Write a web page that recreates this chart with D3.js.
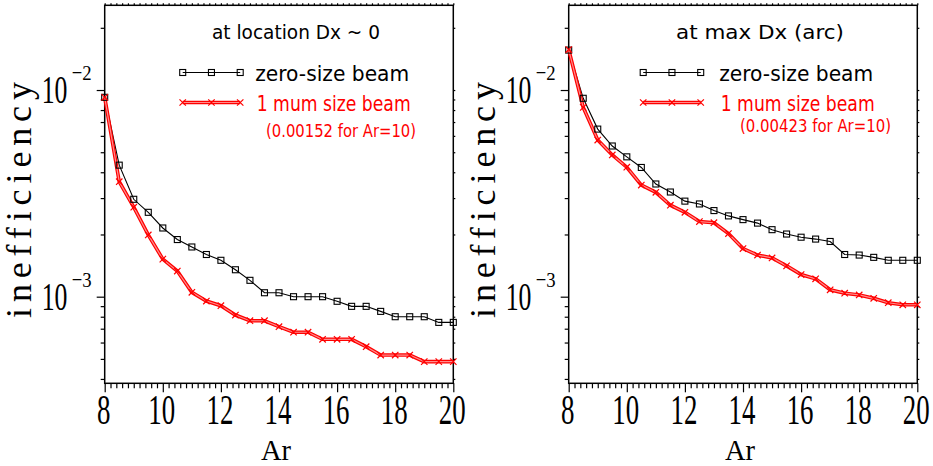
<!DOCTYPE html>
<html><head><meta charset="utf-8">
<script src="https://cdn.jsdelivr.net/npm/d3@7"></script>
<style>body{margin:0;background:#fff}svg{display:block}</style>
</head><body><svg id="c" width="933" height="466"></svg>
<script>
// ---- data ----
const ar = [8,8.5,9,9.5,10,10.5,11,11.5,12,12.5,13,13.5,14,14.5,15,15.5,16,16.5,17,17.5,18,18.5,19,19.5,20];
const zeroLeft = [9.22e-3,4.33e-3,2.96e-3,2.56e-3,2.15e-3,1.89e-3,1.74e-3,1.60e-3,1.50e-3,1.35e-3,1.20e-3,1.045e-3,1.045e-3,1.00e-3,1.00e-3,1.00e-3,9.5e-4,8.98e-4,8.98e-4,8.49e-4,8.0e-4,8.0e-4,8.0e-4,7.51e-4,7.51e-4];
const beamLeft = [9.22e-3,3.60e-3,2.71e-3,1.99e-3,1.52e-3,1.33e-3,1.05e-3,9.53e-4,9.04e-4,8.15e-4,7.65e-4,7.65e-4,7.16e-4,6.73e-4,6.73e-4,6.22e-4,6.22e-4,6.22e-4,5.73e-4,5.22e-4,5.22e-4,5.22e-4,4.85e-4,4.85e-4,4.85e-4];
const zeroRight = [1.56e-2,9.12e-3,6.47e-3,5.36e-3,4.75e-3,4.22e-3,3.51e-3,3.21e-3,2.90e-3,2.81e-3,2.61e-3,2.46e-3,2.36e-3,2.27e-3,2.11e-3,2.01e-3,1.94e-3,1.90e-3,1.85e-3,1.60e-3,1.59e-3,1.55e-3,1.50e-3,1.50e-3,1.50e-3];
const beamRight = [1.57e-2,8.24e-3,5.73e-3,4.85e-3,4.23e-3,3.47e-3,3.20e-3,2.77e-3,2.56e-3,2.31e-3,2.28e-3,2.02e-3,1.71e-3,1.59e-3,1.54e-3,1.41e-3,1.28e-3,1.22e-3,1.08e-3,1.04e-3,1.02e-3,9.82e-4,9.35e-4,9.14e-4,9.14e-4];
const xMajorTicks = [8,10,12,14,16,18,20];
const yMajorTicks = [1e-3,1e-2];
const yMajorLabels = ["−3","−2"];
const titles = ["at location Dx ~ 0","at max Dx (arc)"];
const seriesNames = ["zero-size beam","1 mum size beam"];
const notes = ["(0.00152 for Ar=10)","(0.00423 for Ar=10)"];
const xLabel = "Ar";
const yLabel = "inefficiency";

// ---- drawing ----
const svg = d3.select("#c");
const yTop = 5.3, yBot = 383.3;
const yDomain = [3.81e-4, 0.0257];
const xMinor = d3.range(8, 20.0001, 0.2).map(v => +v.toFixed(1));
const yMinor = [];
[1e-4,1e-3,1e-2].forEach(d => { for (let k=1;k<10;k++){ const v=k*d; if (v>=yDomain[0] && v<=yDomain[1]) yMinor.push(v);} });

const panels = [
  {x0:104.7, x1:453.3, zero:zeroLeft, beam:beamLeft, title:titles[0], note:notes[0], legX:78, noteX:161.3, noteY:137, noteW:150},
  {x0:568.7, x1:917.3, zero:zeroRight, beam:beamRight, title:titles[1], note:notes[1], legX:74.5, noteX:171.3, noteY:132, noteW:151}
];

const serif = "'Liberation Serif','Times New Roman',serif";
const sans = "'DejaVu Sans',sans-serif";

panels.forEach(p => {
  const g = svg.append("g");
  const x = d3.scaleLinear().domain([8,20]).range([p.x0, p.x1]);
  const y = d3.scaleLog().domain(yDomain).range([yBot, yTop]);

  const isMajorX = v => xMajorTicks.some(t => Math.abs(t-v)<1e-6);
  const isMajorY = v => yMajorTicks.some(t => Math.abs(t-v)/t<1e-6);

  const bottom = g.append("g").attr("transform",`translate(0,${yBot})`)
    .call(d3.axisBottom(x).tickValues(xMinor).tickSize(5).tickFormat(""));
  bottom.selectAll(".tick line").attr("y2", d => isMajorX(d) ? 9 : 5);
  const top = g.append("g").attr("transform",`translate(0,${yTop})`)
    .call(d3.axisTop(x).tickValues(xMinor).tickSize(2).tickFormat(""));
  const left = g.append("g").attr("transform",`translate(${p.x0},0)`)
    .call(d3.axisLeft(y).tickValues(yMinor).tickSize(4).tickFormat(""));
  left.selectAll(".tick line").attr("x2", d => isMajorY(d) ? -8 : -4);
  const right = g.append("g").attr("transform",`translate(${p.x1},0)`)
    .call(d3.axisRight(y).tickValues(yMinor).tickSize(2).tickFormat(""));
  [bottom, top, left, right].forEach(a => {
    a.select(".domain").remove();
    a.selectAll(".tick line").attr("stroke","#000").attr("stroke-width",1.2);
  });
  g.append("rect").attr("x",p.x0).attr("y",yTop).attr("width",p.x1-p.x0).attr("height",yBot-yTop)
    .attr("fill","none").attr("stroke","#000").attr("stroke-width",1.5);

  xMajorTicks.forEach(t => {
    g.append("text").attr("transform",`translate(${x(t)-1},424) scale(0.64,1)`)
      .attr("text-anchor","middle").attr("font-family",serif).attr("font-size",42).text(t);
  });
  yMajorTicks.forEach((t,i) => {
    g.append("text").attr("transform",`translate(${p.x0-63},${y(t)+13}) scale(0.66,1)`)
      .attr("font-family",serif).attr("font-size",39).text("10");
    g.append("text").attr("transform",`translate(${p.x0-33},${y(t)-10}) scale(0.85,1)`)
      .attr("font-family",serif).attr("font-size",22).text(yMajorLabels[i]);
  });
  g.append("text").attr("transform",`translate(${(p.x0+p.x1)/2-3},460) scale(0.95,1)`)
    .attr("text-anchor","middle").attr("font-family",serif).attr("font-size",30).text(xLabel);
  g.append("text").attr("transform",`translate(${p.x0-74},318) rotate(-90)`)
    .attr("font-family",serif).attr("font-size",36)
    .attr("textLength",236).attr("lengthAdjust","spacing").text(yLabel);

  const line = (arr) => d3.line().x((d,i)=>x(ar[i])).y(d=>y(d))(arr);
  g.append("path").attr("d",line(p.zero)).attr("fill","none").attr("stroke","#000").attr("stroke-width",1.1);
  g.append("path").attr("d",line(p.beam)).attr("fill","none").attr("stroke","#ff0000").attr("stroke-width",3.6);
  g.append("path").attr("d",line(p.beam)).attr("fill","none").attr("stroke","#ff8c8c").attr("stroke-width",1.2);

  const sq = (sel, cx, cy) => sel.append("rect").attr("x",cx-3).attr("y",cy-3).attr("width",6).attr("height",6)
    .attr("fill","none").attr("stroke","#000").attr("stroke-width",1.1);
  const cross = (sel, cx, cy) => sel.append("path").attr("d",`M${cx-3.2},${cy-3.2}L${cx+3.2},${cy+3.2}M${cx-3.2},${cy+3.2}L${cx+3.2},${cy-3.2}`)
    .attr("stroke","#ff0000").attr("stroke-width",1.2).attr("fill","none");

  p.zero.forEach((v,i) => sq(g, x(ar[i]), y(v)));
  p.beam.forEach((v,i) => cross(g, x(ar[i]), y(v)));

  const lx0 = p.x0 + p.legX, lx1 = lx0 + 57.5, lxm = (lx0+lx1)/2;
  g.append("line").attr("x1",lx0).attr("x2",lx1).attr("y1",72.5).attr("y2",72.5).attr("stroke","#000").attr("stroke-width",1.1);
  [lx0,lxm,lx1].forEach(cx => sq(g, cx, 72.5));
  g.append("line").attr("x1",lx0).attr("x2",lx1).attr("y1",102.5).attr("y2",102.5).attr("stroke","#ff0000").attr("stroke-width",3.6);
  g.append("line").attr("x1",lx0).attr("x2",lx1).attr("y1",102.5).attr("y2",102.5).attr("stroke","#ff8c8c").attr("stroke-width",1.2);
  [lx0,lxm,lx1].forEach(cx => cross(g, cx, 102.5));

  g.append("text").attr("x",p.x0+191.3).attr("y",39).attr("text-anchor","middle")
    .attr("font-family",sans).attr("font-size",19).attr("textLength",168).attr("lengthAdjust","spacingAndGlyphs").text(p.title);
  g.append("text").attr("x",p.x0+150.5).attr("y",81).attr("font-family",sans).attr("font-size",22)
    .attr("textLength",154).attr("lengthAdjust","spacingAndGlyphs").text(seriesNames[0]);
  g.append("text").attr("x",p.x0+152).attr("y",111).attr("font-family",sans).attr("font-size",22).attr("fill","#ff0000")
    .attr("textLength",154).attr("lengthAdjust","spacingAndGlyphs").text(seriesNames[1]);
  g.append("text").attr("x",p.x0+p.noteX).attr("y",p.noteY).attr("font-family",sans).attr("font-size",17).attr("fill","#ff0000")
    .attr("textLength",p.noteW).attr("lengthAdjust","spacingAndGlyphs").text(p.note);
});
</script></body></html>
